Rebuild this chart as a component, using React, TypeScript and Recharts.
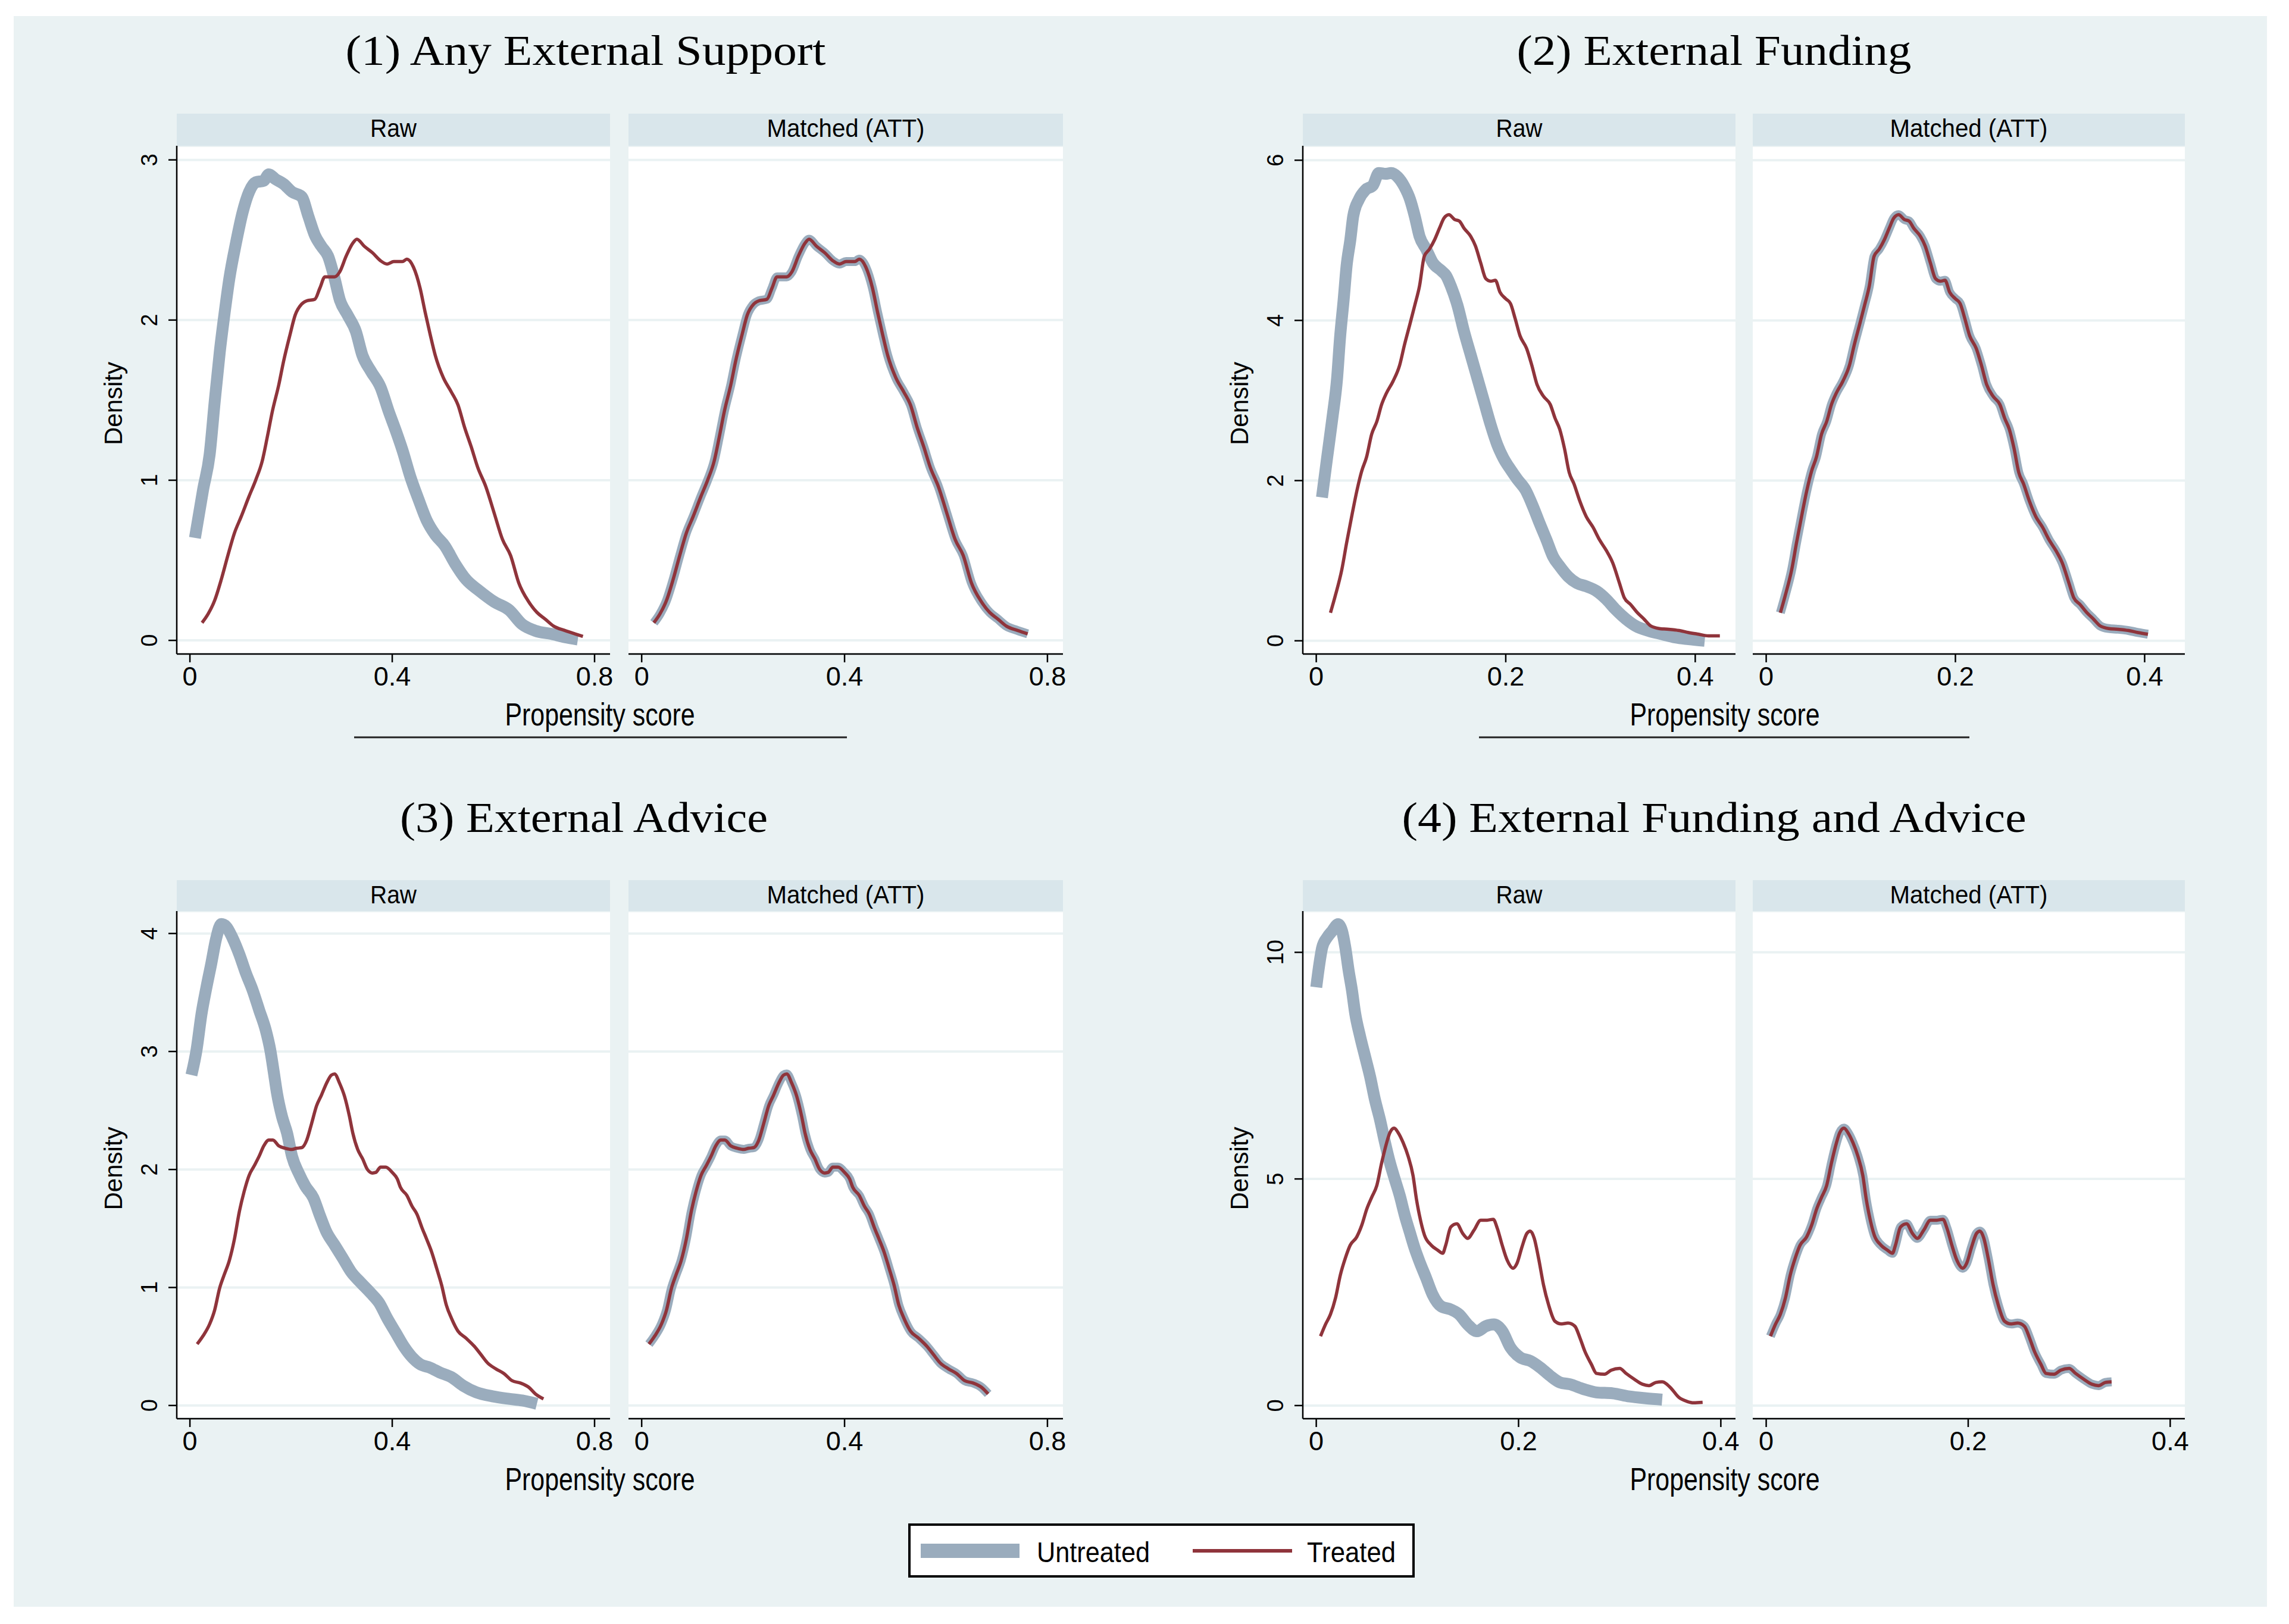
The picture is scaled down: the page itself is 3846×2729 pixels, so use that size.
import React from 'react';
import { LineChart, Line, XAxis, YAxis, CartesianGrid } from 'recharts';

type Pt = [number, number];

// ---------- text ----------
const panelTitles = [
  '(1) Any External Support',
  '(2) External Funding',
  '(3) External Advice',
  '(4) External Funding and Advice',
];
const subplotLabels = ['Raw', 'Matched (ATT)'];
const seriesNames = ['Untreated', 'Treated'];
const xAxisTitle = 'Propensity score';
const yAxisTitle = 'Density';

// ---------- ticks ----------
const xTicksWide = [0, 0.4, 0.8];
const xTicksNarrow = [0, 0.2, 0.4];
const yTicks1 = [0, 1, 2, 3];
const yTicks2 = [0, 2, 4, 6];
const yTicks3 = [0, 1, 2, 3, 4];
const yTicks4 = [0, 5, 10];

// ---------- series (propensity score, density) ----------
const untreated1: Pt[] = [
  [0.010, 0.64], [0.026, 0.94], [0.039, 1.16], [0.049, 1.49], [0.059, 1.80], [0.068, 2.03],
  [0.078, 2.26], [0.091, 2.48], [0.104, 2.67], [0.117, 2.80], [0.130, 2.86], [0.146, 2.87],
  [0.156, 2.91], [0.169, 2.88], [0.185, 2.85], [0.202, 2.80], [0.221, 2.77], [0.234, 2.65],
  [0.247, 2.53], [0.260, 2.46], [0.273, 2.40], [0.286, 2.26], [0.296, 2.13], [0.312, 2.03],
  [0.328, 1.93], [0.341, 1.78], [0.358, 1.68], [0.377, 1.58], [0.393, 1.43], [0.407, 1.31],
  [0.420, 1.19], [0.436, 1.02], [0.452, 0.88], [0.468, 0.75], [0.485, 0.66], [0.504, 0.59],
  [0.524, 0.48], [0.546, 0.38], [0.572, 0.31], [0.602, 0.24], [0.631, 0.19], [0.657, 0.10],
  [0.683, 0.06], [0.715, 0.04], [0.741, 0.02], [0.767, 0.006],
];
const treated1: Pt[] = [
  [0.024, 0.11], [0.036, 0.165], [0.049, 0.25], [0.062, 0.38], [0.075, 0.53], [0.088, 0.67],
  [0.101, 0.77], [0.117, 0.90], [0.130, 1.00], [0.143, 1.12], [0.153, 1.27], [0.163, 1.43],
  [0.176, 1.60], [0.185, 1.74], [0.198, 1.91], [0.208, 2.03], [0.221, 2.10], [0.231, 2.12],
  [0.247, 2.13], [0.257, 2.20], [0.267, 2.27], [0.286, 2.27], [0.296, 2.30], [0.309, 2.40],
  [0.322, 2.48], [0.330, 2.505], [0.345, 2.46], [0.361, 2.42], [0.377, 2.37], [0.390, 2.35],
  [0.403, 2.365], [0.420, 2.365], [0.429, 2.38], [0.442, 2.33], [0.455, 2.20], [0.465, 2.05],
  [0.475, 1.91], [0.485, 1.78], [0.501, 1.64], [0.517, 1.55], [0.530, 1.47], [0.543, 1.33],
  [0.556, 1.21], [0.569, 1.08], [0.585, 0.96], [0.602, 0.79], [0.618, 0.63], [0.634, 0.53],
  [0.650, 0.36], [0.670, 0.24], [0.686, 0.175], [0.702, 0.134], [0.719, 0.089], [0.741, 0.062],
  [0.761, 0.041], [0.777, 0.025],
];
const untreated2: Pt[] = [
  [0.006, 1.79], [0.0115, 2.29], [0.017, 2.78], [0.022, 3.28], [0.025, 3.77], [0.029, 4.27],
  [0.032, 4.68], [0.036, 5.01], [0.039, 5.30], [0.045, 5.51], [0.052, 5.63], [0.060, 5.69],
  [0.066, 5.84], [0.073, 5.83], [0.079, 5.84], [0.086, 5.79], [0.093, 5.67], [0.099, 5.51],
  [0.104, 5.30], [0.109, 5.05], [0.116, 4.89], [0.123, 4.72], [0.132, 4.62], [0.137, 4.56],
  [0.142, 4.43], [0.149, 4.19], [0.156, 3.86], [0.163, 3.57], [0.170, 3.28], [0.177, 2.99],
  [0.184, 2.70], [0.191, 2.45], [0.198, 2.27], [0.205, 2.14], [0.212, 2.02], [0.221, 1.88],
  [0.229, 1.67], [0.236, 1.46], [0.243, 1.26], [0.250, 1.05], [0.257, 0.93], [0.266, 0.80],
  [0.275, 0.72], [0.285, 0.68], [0.296, 0.62], [0.306, 0.52], [0.316, 0.39], [0.327, 0.27],
  [0.337, 0.186], [0.351, 0.124], [0.365, 0.082], [0.379, 0.041], [0.393, 0.02], [0.410, 0.0],
];
const treated2: Pt[] = [
  [0.015, 0.35], [0.020, 0.56], [0.027, 0.89], [0.032, 1.22], [0.038, 1.59], [0.043, 1.88],
  [0.048, 2.12], [0.053, 2.29], [0.0585, 2.58], [0.064, 2.74], [0.069, 2.95], [0.074, 3.09],
  [0.081, 3.24], [0.088, 3.44], [0.093, 3.69], [0.099, 3.96], [0.104, 4.19], [0.109, 4.43],
  [0.114, 4.80], [0.1195, 4.89], [0.125, 5.01], [0.130, 5.15], [0.135, 5.28], [0.140, 5.32],
  [0.146, 5.26], [0.151, 5.24], [0.156, 5.15], [0.163, 5.05], [0.168, 4.93], [0.1735, 4.72],
  [0.179, 4.52], [0.184, 4.49], [0.189, 4.50], [0.194, 4.35], [0.200, 4.27], [0.205, 4.21],
  [0.210, 4.02], [0.215, 3.81], [0.222, 3.65], [0.2275, 3.44], [0.233, 3.20], [0.240, 3.05],
  [0.247, 2.95], [0.252, 2.78], [0.257, 2.64], [0.262, 2.40], [0.267, 2.10], [0.272, 1.96],
  [0.278, 1.75], [0.285, 1.55], [0.292, 1.42], [0.299, 1.26], [0.306, 1.13], [0.313, 0.97],
  [0.320, 0.72], [0.325, 0.54], [0.332, 0.45], [0.339, 0.35], [0.346, 0.27], [0.353, 0.186],
  [0.362, 0.153], [0.372, 0.144], [0.383, 0.128], [0.393, 0.103], [0.4035, 0.082], [0.414, 0.062],
  [0.426, 0.062],
];
const untreated3: Pt[] = [
  [0.003, 2.80], [0.013, 3.01], [0.023, 3.32], [0.0325, 3.54], [0.042, 3.74], [0.052, 3.96],
  [0.062, 4.08], [0.0715, 4.06], [0.0845, 3.96], [0.098, 3.82], [0.111, 3.66], [0.124, 3.52],
  [0.137, 3.35], [0.150, 3.18], [0.159, 3.01], [0.166, 2.82], [0.172, 2.65], [0.182, 2.45],
  [0.192, 2.31], [0.202, 2.11], [0.215, 1.97], [0.228, 1.86], [0.244, 1.76], [0.257, 1.61],
  [0.270, 1.47], [0.286, 1.36], [0.302, 1.25], [0.319, 1.13], [0.338, 1.04], [0.358, 0.95],
  [0.374, 0.87], [0.390, 0.74], [0.4065, 0.62], [0.423, 0.50], [0.439, 0.41], [0.455, 0.35],
  [0.475, 0.32], [0.494, 0.28], [0.517, 0.24], [0.540, 0.168], [0.566, 0.112], [0.598, 0.078],
  [0.631, 0.056], [0.657, 0.042], [0.686, 0.014],
];
const treated3: Pt[] = [
  [0.0143, 0.52], [0.026, 0.59], [0.039, 0.69], [0.049, 0.81], [0.0585, 0.99], [0.068, 1.11],
  [0.078, 1.23], [0.088, 1.41], [0.0976, 1.64], [0.107, 1.81], [0.117, 1.95], [0.127, 2.03],
  [0.1366, 2.11], [0.146, 2.20], [0.156, 2.25], [0.164, 2.25], [0.1756, 2.20], [0.1886, 2.18],
  [0.2016, 2.17], [0.211, 2.18], [0.221, 2.185], [0.231, 2.25], [0.2406, 2.39], [0.2504, 2.54],
  [0.260, 2.63], [0.270, 2.73], [0.2797, 2.80], [0.286, 2.81], [0.296, 2.73], [0.3057, 2.62],
  [0.3154, 2.45], [0.322, 2.31], [0.3317, 2.17], [0.3415, 2.09], [0.351, 2.00], [0.361, 1.97],
  [0.3675, 1.975], [0.377, 2.02], [0.387, 2.02], [0.400, 1.975], [0.410, 1.92], [0.416, 1.85],
  [0.429, 1.78], [0.439, 1.69], [0.449, 1.62], [0.4585, 1.51], [0.468, 1.41], [0.478, 1.30],
  [0.488, 1.16], [0.4976, 1.02], [0.507, 0.85], [0.517, 0.74], [0.530, 0.63], [0.546, 0.57],
  [0.5626, 0.50], [0.5756, 0.43], [0.5886, 0.36], [0.605, 0.31], [0.621, 0.27], [0.637, 0.21],
  [0.6537, 0.19], [0.670, 0.154], [0.683, 0.098], [0.699, 0.056],
];
const untreated4: Pt[] = [
  [0.000, 9.23], [0.0026, 9.67], [0.0059, 10.11], [0.0108, 10.33], [0.0157, 10.47], [0.0216, 10.62],
  [0.0255, 10.47], [0.0287, 10.11], [0.032, 9.60], [0.0353, 9.16], [0.0385, 8.65], [0.0434, 8.14],
  [0.0483, 7.70], [0.0532, 7.26], [0.058, 6.75], [0.063, 6.31], [0.068, 5.80], [0.0728, 5.36],
  [0.0777, 4.99], [0.0826, 4.63], [0.0875, 4.20], [0.0924, 3.83], [0.0973, 3.47], [0.102, 3.18],
  [0.1087, 2.81], [0.115, 2.45], [0.1234, 2.19], [0.133, 2.12], [0.1414, 2.01], [0.1496, 1.79],
  [0.159, 1.64], [0.1675, 1.75], [0.1757, 1.79], [0.184, 1.64], [0.192, 1.28], [0.2018, 1.06],
  [0.2116, 0.985], [0.2214, 0.84], [0.231, 0.66], [0.241, 0.51], [0.2508, 0.47], [0.264, 0.365],
  [0.277, 0.29], [0.293, 0.27], [0.3096, 0.20], [0.326, 0.16], [0.342, 0.13],
];
const treated4: Pt[] = [
  [0.0042, 1.53], [0.0091, 1.79], [0.014, 2.01], [0.019, 2.37], [0.0238, 2.88], [0.0287, 3.25],
  [0.0336, 3.54], [0.040, 3.72], [0.045, 3.98], [0.050, 4.34], [0.0549, 4.60], [0.0598, 4.85],
  [0.0647, 5.36], [0.0696, 5.80], [0.0728, 6.02], [0.077, 6.12], [0.081, 6.02], [0.0859, 5.80],
  [0.0907, 5.51], [0.0957, 5.07], [0.099, 4.56], [0.102, 4.20], [0.107, 3.76], [0.1136, 3.54],
  [0.120, 3.43], [0.125, 3.36], [0.128, 3.54], [0.133, 3.94], [0.139, 4.01], [0.1447, 3.80],
  [0.1496, 3.69], [0.156, 3.87], [0.1626, 4.09], [0.169, 4.09], [0.175, 4.11], [0.179, 3.91],
  [0.1838, 3.54], [0.1887, 3.21], [0.1946, 3.03], [0.1985, 3.14], [0.2034, 3.50], [0.2083, 3.80],
  [0.2116, 3.85], [0.2155, 3.69], [0.2198, 3.25], [0.2247, 2.66], [0.2296, 2.23], [0.236, 1.86],
  [0.2426, 1.80], [0.249, 1.82], [0.2557, 1.75], [0.2606, 1.50], [0.2655, 1.20], [0.272, 0.91],
  [0.277, 0.71], [0.285, 0.69], [0.2916, 0.78], [0.300, 0.82], [0.3063, 0.71], [0.3145, 0.58],
  [0.3226, 0.47], [0.329, 0.44], [0.3357, 0.51], [0.342, 0.525], [0.350, 0.40], [0.3585, 0.18],
  [0.3667, 0.09], [0.373, 0.06], [0.382, 0.07],
];
// upper end of common support used in the matched sample
const matchedMax = [0.775, 0.412, 0.686, 0.345];

// ---------- styles ----------
const BG = '#EAF2F3';
const STRIP = '#D9E6EB';
const GRAY = '#9AACBD';
const RED = '#8F343B';
const NARROW = "'Liberation Sans Narrow','Arial Narrow','Nimbus Sans Narrow','Liberation Sans',sans-serif";
const SANS = "'Liberation Sans',Arial,Helvetica,sans-serif";
const SERIF = "'Liberation Serif','Times New Roman',serif";

const toRows = (pts: Pt[]) => pts.map(([x, y]) => ({ x, y }));

type Layout = {
  titleX: number; titleY: number; titleW: number;
  left: [number, number]; right: [number, number];
  top: number; bottom: number; stripTop: number;
  xDomain: [number, number]; yDomain: [number, number];
  xTicks: number[]; yTicks: number[];
  untreated: Pt[]; treated: Pt[];
  labelX: number; underline?: [number, number];
};

const layouts: Layout[] = [
  {
    titleX: 984, titleY: 109, titleW: 807, left: [297, 1025], right: [1056, 1786],
    top: 245, bottom: 1099, stripTop: 191, xDomain: [-0.026, 0.8306], yDomain: [-0.085, 3.088],
    xTicks: xTicksWide, yTicks: yTicks1, untreated: untreated1, treated: treated1,
    labelX: 1008, underline: [595, 1423],
  },
  {
    titleX: 2880, titleY: 109, titleW: 663, left: [2189, 2916], right: [2945, 3671],
    top: 245, bottom: 1099, stripTop: 191, xDomain: [-0.0142, 0.4425], yDomain: [-0.165, 6.18],
    xTicks: xTicksNarrow, yTicks: yTicks2, untreated: untreated2, treated: treated2,
    labelX: 2898, underline: [2485, 3309],
  },
  {
    titleX: 981, titleY: 1398, titleW: 618, left: [297, 1025], right: [1056, 1786],
    top: 1531, bottom: 2384, stripTop: 1479, xDomain: [-0.026, 0.8306], yDomain: [-0.112, 4.19],
    xTicks: xTicksWide, yTicks: yTicks3, untreated: untreated3, treated: treated3,
    labelX: 1008,
  },
  {
    titleX: 2880, titleY: 1398, titleW: 1049, left: [2189, 2916], right: [2945, 3671],
    top: 1531, bottom: 2384, stripTop: 1479, xDomain: [-0.0133, 0.4145], yDomain: [-0.29, 10.91],
    xTicks: xTicksNarrow, yTicks: yTicks4, untreated: untreated4, treated: treated4,
    labelX: 2898,
  },
];

const XTick = (props: any) => {
  const { x, y, payload } = props;
  return (
    <text x={x} y={y + 39} textAnchor="middle" fontFamily={NARROW} fontSize={45} fill="#000">
      {String(payload.value)}
    </text>
  );
};

const YTick = (props: any) => {
  const { x, y, payload } = props;
  const bx = x - 19;
  return (
    <text x={bx} y={y} transform={`rotate(-90 ${bx} ${y})`} textAnchor="middle" fontFamily={SANS} fontSize={38} fill="#000">
      {String(payload.value)}
    </text>
  );
};

type SubProps = {
  x0: number; x1: number; top: number; bottom: number;
  xDomain: [number, number]; yDomain: [number, number];
  xTicks: number[]; yTicks: number[];
  grayPts: Pt[]; redPts: Pt[]; grayWidth: number; showY: boolean;
};

function SubPlot(p: SubProps) {
  const padL = p.showY ? 120 : 0;
  const padR = 45;
  const padB = 70;
  const w = p.x1 - p.x0 + padL + padR;
  const h = p.bottom - p.top + padB;
  return (
    <div style={{ position: 'absolute', left: p.x0 - padL, top: p.top, width: w, height: h }}>
      <LineChart width={w} height={h} margin={{ top: 0, right: padR, bottom: 0, left: 0 }}>
        <CartesianGrid vertical={false} horizontal stroke={BG} strokeWidth={4} fill="#FFFFFF" fillOpacity={1} />
        <XAxis
          type="number" dataKey="x" domain={p.xDomain} ticks={p.xTicks} allowDataOverflow interval={0}
          height={padB} tickSize={14} tickMargin={0}
          axisLine={{ stroke: '#000', strokeWidth: 2.5 }} tickLine={{ stroke: '#000', strokeWidth: 2.5 }}
          tick={(tp: any) => <XTick {...tp} />}
        />
        <YAxis
          type="number" dataKey="y" domain={p.yDomain} ticks={p.yTicks} allowDataOverflow interval={0}
          width={padL} hide={!p.showY} tickSize={14} tickMargin={0}
          axisLine={{ stroke: '#000', strokeWidth: 2.5 }} tickLine={{ stroke: '#000', strokeWidth: 2.5 }}
          tick={(tp: any) => <YTick {...tp} />}
        />
        <Line data={toRows(p.grayPts)} dataKey="y" type="monotone" stroke={GRAY} strokeWidth={p.grayWidth}
          strokeLinejoin="round" strokeLinecap="butt" dot={false} activeDot={false} isAnimationActive={false}
          name={seriesNames[0]} />
        <Line data={toRows(p.redPts)} dataKey="y" type="monotone" stroke={RED} strokeWidth={5.5}
          strokeLinejoin="round" strokeLinecap="butt" dot={false} activeDot={false} isAnimationActive={false}
          name={seriesNames[1]} />
      </LineChart>
    </div>
  );
}

export default function App() {
  return (
    <div style={{ position: 'absolute', left: 0, top: 0, width: 3846, height: 2729, background: '#FFFFFF', overflow: 'hidden' }}>
      <div style={{ position: 'absolute', left: 23, top: 27, width: 3786, height: 2673, background: BG }} />
      <svg width={3846} height={2729} style={{ position: 'absolute', left: 0, top: 0 }}>
        {layouts.map((L, i) => {
          const midY = (L.top + L.bottom) / 2 + 6;
          const dX = L.left[0] - 92;
          return (
            <g key={i}>
              <text x={L.titleX} y={L.titleY} textAnchor="middle" fontFamily={SERIF} fontSize={72}
                textLength={L.titleW} lengthAdjust="spacingAndGlyphs" fill="#000">{panelTitles[i]}</text>
              {[L.left, L.right].map((r, j) => (
                <g key={j}>
                  <rect x={r[0]} y={L.stripTop} width={r[1] - r[0]} height={L.top - L.stripTop} fill={STRIP} />
                  <text x={(r[0] + r[1]) / 2} y={L.stripTop + 39} textAnchor="middle" fontFamily={NARROW}
                    fontSize={42} textLength={j === 0 ? 78 : 265} lengthAdjust="spacingAndGlyphs" fill="#000">
                    {subplotLabels[j]}
                  </text>
                </g>
              ))}
              <text x={dX} y={midY} transform={`rotate(-90 ${dX} ${midY})`} textAnchor="middle" fontFamily={SANS}
                fontSize={42} fill="#000">{yAxisTitle}</text>
              <text x={L.labelX} y={L.bottom + 120} textAnchor="middle" fontFamily={NARROW} fontSize={53}
                textLength={319} lengthAdjust="spacingAndGlyphs" fill="#000">{xAxisTitle}</text>
              {L.underline && (
                <line x1={L.underline[0]} x2={L.underline[1]} y1={1239} y2={1239} stroke="#222" strokeWidth={3} />
              )}
            </g>
          );
        })}
        <g>
          <rect x={1528} y={2562} width={847} height={87} fill="#FFFFFF" stroke="#000" strokeWidth={4} />
          <rect x={1547} y={2594} width={166} height={24} fill={GRAY} />
          <text x={1742} y={2625} fontFamily={NARROW} fontSize={48} textLength={190} lengthAdjust="spacingAndGlyphs" fill="#000">
            {seriesNames[0]}
          </text>
          <line x1={2004} x2={2171} y1={2606} y2={2606} stroke={RED} strokeWidth={6} />
          <text x={2196} y={2625} fontFamily={NARROW} fontSize={48} textLength={149} lengthAdjust="spacingAndGlyphs" fill="#000">
            {seriesNames[1]}
          </text>
        </g>
      </svg>
      {layouts.map((L, i) => {
        const matchedPts = L.treated.filter(([x]) => x <= matchedMax[i]);
        return (
          <React.Fragment key={i}>
            <SubPlot x0={L.left[0]} x1={L.left[1]} top={L.top} bottom={L.bottom} xDomain={L.xDomain}
              yDomain={L.yDomain} xTicks={L.xTicks} yTicks={L.yTicks} grayPts={L.untreated} redPts={L.treated}
              grayWidth={20} showY />
            <SubPlot x0={L.right[0]} x1={L.right[1]} top={L.top} bottom={L.bottom} xDomain={L.xDomain}
              yDomain={L.yDomain} xTicks={L.xTicks} yTicks={L.yTicks} grayPts={matchedPts} redPts={matchedPts}
              grayWidth={15} showY={false} />
          </React.Fragment>
        );
      })}
    </div>
  );
}
